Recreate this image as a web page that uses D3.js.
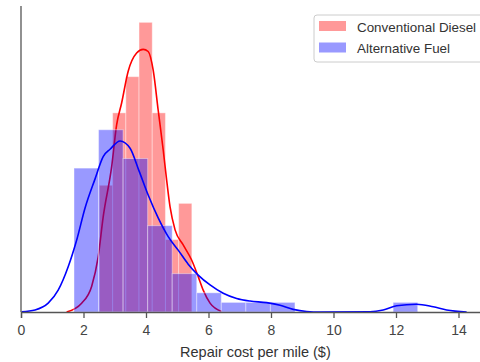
<!DOCTYPE html>
<html>
<head>
<meta charset="utf-8">
<script src="https://cdn.jsdelivr.net/npm/d3@7"></script>
<style>
  html, body { margin: 0; padding: 0; background: #fff; }
  svg { display: block; font-family: "Liberation Sans", Arial, sans-serif; }
</style>
</head>
<body>
<div id="chart"></div>
<script>
// Histogram bins (left edge of first bin, bin width, counts per bin)
const dieselStart = 2.51;
const dieselWidth = 0.4224;
const dieselCounts = [7, 11, 13, 16, 11, 4, 6];

const altStart = 1.696;
const altWidth = 0.7856;
const altCounts = [15, 19, 16, 9, 4, 2, 1, 1, 1, 0, 0, 0, 0, 1];

// KDE curves: [x, density]
const dieselKde = [
  [1.46, 0], [1.94, 0.017], [2.26, 0.049], [2.47, 0.106], [2.63, 0.183],
  [2.90, 0.279], [3.06, 0.360], [3.22, 0.402], [3.43, 0.463], [3.70, 0.498],
  [3.91, 0.505], [4.07, 0.501], [4.23, 0.465], [4.39, 0.388], [4.55, 0.312],
  [4.66, 0.254], [4.77, 0.202], [4.93, 0.158], [5.19, 0.129], [5.46, 0.100],
  [5.67, 0.068], [5.83, 0.042], [6.05, 0.017], [6.42, 0.001]
];
const altKde = [
  [0.02, 0.0006], [0.45, 0.004], [0.87, 0.017], [1.19, 0.042], [1.51, 0.087],
  [1.78, 0.138], [2.05, 0.200], [2.37, 0.256], [2.63, 0.299], [2.85, 0.313],
  [3.17, 0.329], [3.49, 0.315], [3.78, 0.271], [4.07, 0.225], [4.39, 0.181],
  [4.71, 0.145], [5.03, 0.119], [5.35, 0.092], [5.67, 0.071], [6.05, 0.052],
  [6.47, 0.036], [6.90, 0.026], [7.33, 0.021], [7.86, 0.018], [8.29, 0.013],
  [8.71, 0.005], [9.14, 0.001], [9.57, 0], [11.17, 0.0006], [11.59, 0.004],
  [12.02, 0.012], [12.66, 0.015], [13.19, 0.010], [13.62, 0.004], [14.26, 0]
];

const xTicks = [0, 2, 4, 6, 8, 10, 12, 14];
const seriesNames = ['Conventional Diesel', 'Alternative Fuel'];
const seriesColors = ['red', 'blue'];

const width = 480, height = 362;
const margin = { left: 21, top: 6, bottom: 50 };

const x = d3.scaleLinear().domain([0, 15]).range([margin.left, margin.left + 15 * 31.25]);
const y = d3.scaleLinear().domain([0, 0.5885]).range([height - margin.bottom, margin.top]);

const svg = d3.select('#chart')
  .append('svg')
  .attr('width', width)
  .attr('height', height);

// turn counts into density bins
function toBins(start, w, counts) {
  const n = d3.sum(counts);
  return counts.map((c, i) => ({ x0: start + i * w, x1: start + (i + 1) * w, d: c / (n * w) }));
}

const line = d3.line()
  .x(d => x(d[0]))
  .y(d => y(d[1]))
  .curve(d3.curveMonotoneX);

function drawSeries(bins, kde, color) {
  svg.append('g')
    .selectAll('rect')
    .data(bins.filter(b => b.d > 0))
    .join('rect')
    .attr('x', b => x(b.x0))
    .attr('width', b => x(b.x1) - x(b.x0))
    .attr('y', b => y(b.d))
    .attr('height', b => y(0) - y(b.d))
    .attr('fill', color)
    .attr('fill-opacity', 0.4)
    .attr('stroke', '#fff')
    .attr('stroke-opacity', 0.4)
    .attr('stroke-width', 1);

  svg.append('path')
    .datum(kde)
    .attr('d', line)
    .attr('fill', 'none')
    .attr('stroke', color)
    .attr('stroke-width', 1.6);
}

drawSeries(toBins(dieselStart, dieselWidth, dieselCounts), dieselKde, seriesColors[0]);
drawSeries(toBins(altStart, altWidth, altCounts), altKde, seriesColors[1]);

// axes (left spine only, bottom with ticks)
const xAxis = svg.append('g')
  .attr('transform', `translate(0,${y(0)})`)
  .call(d3.axisBottom(x).tickValues(xTicks).tickFormat(d3.format('d')).tickSize(6).tickPadding(7));
xAxis.select('.domain').attr('stroke', '#555').attr('stroke-width', 1.3);
xAxis.selectAll('.tick line').attr('stroke', '#555').attr('stroke-width', 1.3);
xAxis.selectAll('.tick text').attr('fill', '#444').style('font-size', '14px');

svg.append('line')
  .attr('x1', x(0)).attr('x2', x(0))
  .attr('y1', y(0)).attr('y2', margin.top)
  .attr('stroke', '#555')
  .attr('stroke-width', 1.3);

svg.append('text')
  .attr('x', (x.range()[0] + x.range()[1]) / 2)
  .attr('y', 357)
  .attr('text-anchor', 'middle')
  .attr('fill', '#333')
  .style('font-size', '14.5px')
  .text('Repair cost per mile ($)');

// legend
const legend = svg.append('g').attr('transform', 'translate(314,15)');
legend.append('rect')
  .attr('width', 190).attr('height', 47)
  .attr('rx', 3)
  .attr('fill', '#fff').attr('fill-opacity', 0.8)
  .attr('stroke', '#ccc');

seriesNames.forEach((name, i) => {
  const g = legend.append('g').attr('transform', `translate(5,${6 + i * 21.5})`);
  g.append('rect')
    .attr('width', 27).attr('height', 10)
    .attr('fill', seriesColors[i]).attr('fill-opacity', 0.4);
  g.append('text')
    .attr('x', 38).attr('y', 10.5)
    .attr('fill', '#333')
    .style('font-size', '13.4px')
    .text(name);
});
</script>
</body>
</html>
